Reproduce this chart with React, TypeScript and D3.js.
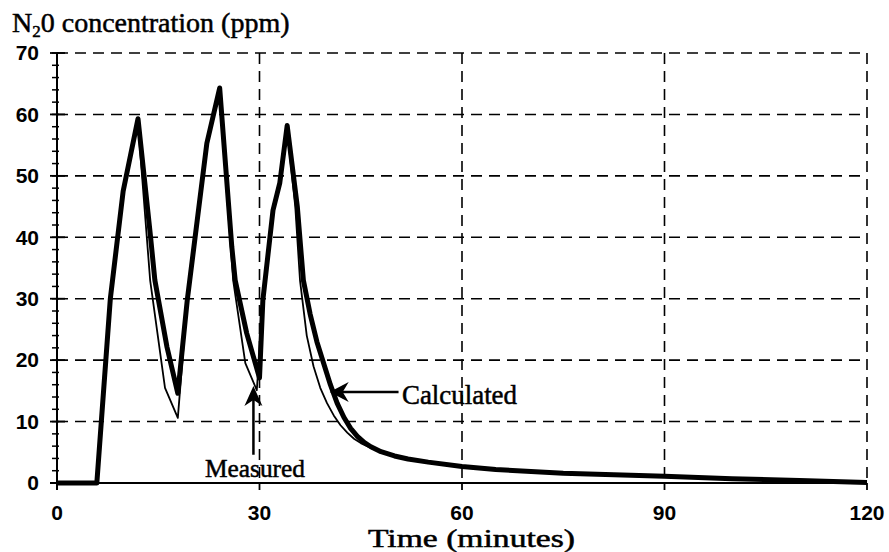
import React from "react";
import * as d3 from "d3";

// ---- Data ----
const calcTime = [0, 5.9, 7.9, 9.8, 12.0, 13.8, 14.5, 16.3, 17.9, 19.3, 22.2, 24.1, 25.9, 26.4, 28.1, 30.0, 30.5, 32.0, 33.0, 34.1, 35.6, 36.5, 37.5, 38.5, 39.5, 40.5, 41.5, 42.5, 43.5, 44.5, 45.5, 46.5, 48, 50, 52, 55, 60, 65, 75, 90, 100, 110, 120];
const calcValue = [0, 0, 30, 47.5, 59.3, 40.7, 33, 22.1, 14.6, 29.8, 55.3, 64.3, 38.4, 33, 24.4, 17.1, 29.8, 44.4, 48.8, 58.2, 45, 33, 27.5, 23, 19.5, 16, 13, 10.7, 8.9, 7.6, 6.6, 5.9, 5.1, 4.4, 3.9, 3.4, 2.7, 2.2, 1.6, 1.1, 0.7, 0.4, 0.1];

const measTime = [0, 5.9, 7.9, 9.8, 12.0, 13.8, 16.0, 17.9, 19.3, 22.2, 24.1, 26.1, 27.9, 29.6, 30.5, 32.0, 33.0, 34.1, 35.3, 36.0, 37.0, 38.0, 39.0, 40.0, 41.0, 42.0, 43.0, 44.0, 45.0, 46.5, 48, 50, 52, 55, 60, 65, 75, 90, 100, 110, 120];
const measValue = [0, 0, 30, 47.5, 58.5, 33, 15.5, 10.6, 29.8, 55, 63.5, 33, 19.5, 15.1, 29.8, 44.4, 48.8, 57.5, 45, 33, 24, 19, 15.5, 13, 11, 9.4, 8.2, 7.2, 6.5, 5.7, 5.0, 4.3, 3.8, 3.3, 2.6, 2.1, 1.5, 1.0, 0.6, 0.3, 0];

const xTicks = [0, 30, 60, 90, 120];
const yTicks = [0, 10, 20, 30, 40, 50, 60, 70];
const yMinorTicks = d3.range(0, 70.1, 2);

// annotations in data units: [tipTime, tipValue, tailTime, tailValue]
const calcArrow = [40.4, 14.8, 50.6, 14.8];
const measArrow = [29.1, 15.8, 29.1, 4.6];

export default function App() {
  const W = 889, H = 552;
  const x = d3.scaleLinear().domain([0, 120]).range([57, 867]);
  const y = d3.scaleLinear().domain([0, 70]).range([483, 53]);

  const lineGen = d3.line<[number, number]>().x(d => x(d[0])).y(d => y(d[1]));
  const calcPath = lineGen(calcTime.map((t, i) => [t, calcValue[i]] as [number, number]));
  const measPath = lineGen(measTime.map((t, i) => [t, measValue[i]] as [number, number]));

  const serif = "'Liberation Serif', 'Times New Roman', serif";
  const sans = "'Liberation Sans', Arial, sans-serif";

  const cTipX = x(calcArrow[0]), cTipY = y(calcArrow[1]), cTailX = x(calcArrow[2]);
  const mTipX = x(measArrow[0]), mTipY = y(measArrow[1]), mTailY = y(measArrow[3]);

  return (
    <svg width={W} height={H} style={{ position: "absolute", left: 0, top: 0, background: "#fff" }}>
      <rect x={0} y={0} width={W} height={H} fill="#fff" />
      {/* horizontal gridlines */}
      {yTicks.filter(v => v > 0).map(v => (
        <line key={"h" + v} x1={x(0)} x2={x(120)} y1={y(v)} y2={y(v)} stroke="#000" strokeWidth={1.6} strokeDasharray="11,7" />
      ))}
      {/* vertical gridlines */}
      {xTicks.filter(t => t > 0).map(t => (
        <line key={"v" + t} x1={x(t)} x2={x(t)} y1={y(70)} y2={y(0)} stroke="#000" strokeWidth={1.6} strokeDasharray="11,7" />
      ))}
      {/* axes */}
      <line x1={x(0)} x2={x(0)} y1={y(70)} y2={y(0) + 7} stroke="#000" strokeWidth={2} />
      <line x1={x(0) - 7} x2={x(120)} y1={y(0)} y2={y(0)} stroke="#000" strokeWidth={2} />
      {yMinorTicks.map(v => (
        <line key={"m" + v} x1={x(0) - 5} x2={x(0) + 2} y1={y(v)} y2={y(v)} stroke="#000" strokeWidth={1.5} />
      ))}
      {yTicks.map(v => (
        <line key={"t" + v} x1={x(0) - 7} x2={x(0) + 8} y1={y(v)} y2={y(v)} stroke="#000" strokeWidth={1.8} />
      ))}
      {xTicks.map(t => (
        <line key={"xt" + t} x1={x(t)} x2={x(t)} y1={y(0)} y2={y(0) + 7} stroke="#000" strokeWidth={1.8} />
      ))}
      {/* tick labels */}
      {yTicks.map(v => (
        <text key={"yl" + v} x={39} y={y(v)} dy="0.35em" textAnchor="end" fontFamily={sans} fontWeight="bold" fontSize={21} fill="#000">{v}</text>
      ))}
      {xTicks.map(t => (
        <text key={"xl" + t} x={x(t)} y={520} textAnchor="middle" fontFamily={sans} fontWeight="bold" fontSize={21} fill="#000">{t}</text>
      ))}
      {/* series */}
      <path d={calcPath || ""} fill="none" stroke="#000" strokeWidth={5} strokeLinejoin="round" />
      <path d={measPath || ""} fill="none" stroke="#000" strokeWidth={1.8} strokeLinejoin="round" />
      {/* annotations */}
      <line x1={cTailX} x2={cTipX + 6} y1={cTipY} y2={cTipY} stroke="#000" strokeWidth={2.5} />
      <path d={`M${cTipX},${cTipY} L${cTipX + 19},${cTipY - 10} L${cTipX + 13},${cTipY} L${cTipX + 19},${cTipY + 10} Z`} fill="#000" />
      <line x1={mTipX} x2={mTipX} y1={mTailY} y2={mTipY + 6} stroke="#000" strokeWidth={2.5} />
      <path d={`M${mTipX},${mTipY} L${mTipX - 9},${mTipY + 20} L${mTipX},${mTipY + 14} L${mTipX + 9},${mTipY + 20} Z`} fill="#000" />
      <text x={402} y={404} fontFamily={serif} fontSize={27} textLength={115} lengthAdjust="spacingAndGlyphs" fill="#000" stroke="#000" strokeWidth={0.5}>Calculated</text>
      <text x={205} y={477} fontFamily={serif} fontSize={25} textLength={100} lengthAdjust="spacingAndGlyphs" fill="#000" stroke="#000" strokeWidth={0.5}>Measured</text>
      {/* axis titles */}
      <text x={368} y={546.5} fontFamily={serif} fontSize={24.5} textLength={207} lengthAdjust="spacingAndGlyphs" fill="#000" stroke="#000" strokeWidth={0.5}>Time (minutes)</text>
      <text x={12} y={32} fontFamily={serif} fontSize={28} fill="#000" stroke="#000" strokeWidth={0.5}>
        N<tspan fontSize={17} dy={5}>2</tspan><tspan dy={-5}>0 concentration (ppm)</tspan>
      </text>
    </svg>
  );
}
